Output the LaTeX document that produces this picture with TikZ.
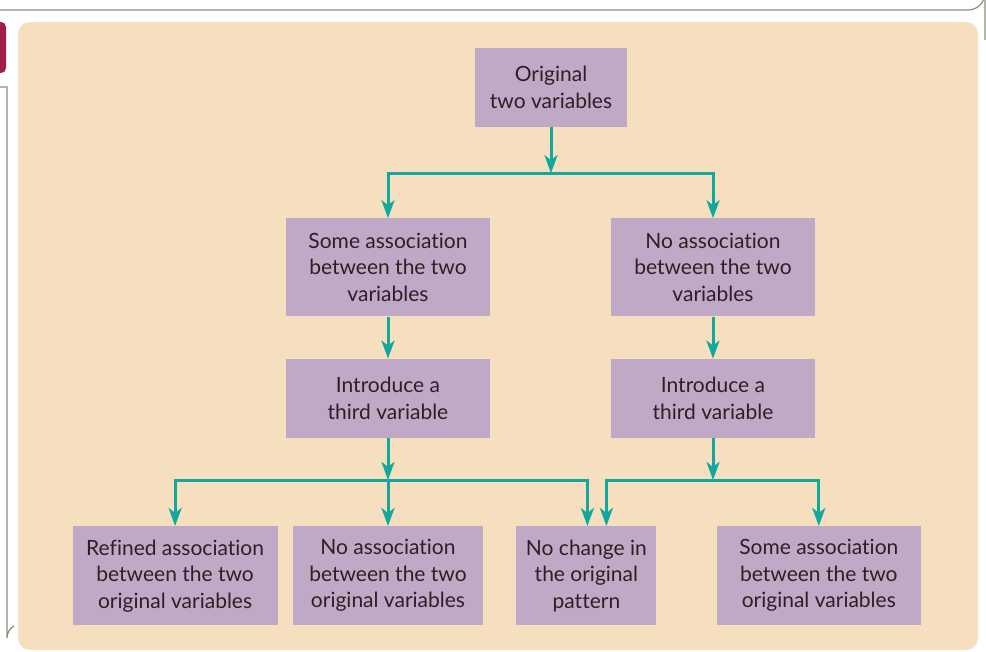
\documentclass[tikz,border=0pt]{standalone}
\usepackage{fontspec}
\setmainfont{Lato}[Ligatures=NoCommon]
\usetikzlibrary{arrows.meta,positioning}
\definecolor{panel}{HTML}{F5DFBF}
\definecolor{boxfill}{HTML}{C0A8C7}
\definecolor{linkcol}{HTML}{12A89D}
\definecolor{framecol}{HTML}{8C8C7A}
\definecolor{tabcol}{HTML}{A11E4B}
\definecolor{ink}{HTML}{2A2222}

\begin{document}
\begin{tikzpicture}[x=1pt,y=-1pt,>={Stealth[length=18pt,width=13pt,inset=5pt]}]
  \tikzstyle{box}=[fill=boxfill,text=ink,align=center,inner sep=0pt,font=\fontsize{21}{26.5}\selectfont]
  \tikzstyle{link}=[draw=linkcol,line width=3pt]
  \useasboundingbox (0,0) rectangle (986,652);
  % page frame and tab
  \draw[framecol,line width=1.2pt] (0,10) -- (968,10) arc[start angle=90,end angle=0,radius=17] -- (985,40);
  \draw[framecol,line width=1.2pt] (0,87) -- (7,87) -- (7,638) arc[start angle=180,end angle=240,radius=14];
  \fill[tabcol,rounded corners=5pt] (-10,22) rectangle (6,73);
  \fill[panel,rounded corners=12pt] (18,22) rectangle (978,650);
  % boxes
  \node[box,minimum width=152pt,minimum height=79pt] (orig) at (551,87.5) {Original\\two variables};
  \node[box,minimum width=204pt,minimum height=98pt,below=91pt of orig,xshift=-163pt] (someL) {Some association\\between the two\\variables};
  \node[box,minimum width=204pt,minimum height=98pt,below=91pt of orig,xshift=162pt] (noneR) {No association\\between the two\\variables};
  \node[box,minimum width=204pt,minimum height=79pt,below=42pt of someL] (introL) {Introduce a\\third variable};
  \node[box,minimum width=204pt,minimum height=79pt,below=42pt of noneR] (introR) {Introduce a\\third variable};
  \node[box,minimum width=190pt,minimum height=99pt,below=88pt of introL] (noneB) {No association\\between the two\\original variables};
  \node[box,minimum width=205pt,minimum height=99pt,left=15pt of noneB] (refined) {Refined association\\between the two\\original variables};
  \node[box,minimum width=140pt,minimum height=99pt,right=33pt of noneB] (nochange) {No change in\\the original\\pattern};
  \node[box,minimum width=204pt,minimum height=99pt,right=60pt of nochange] (someB) {Some association\\between the two\\original variables};
  % junctions
  \coordinate[below=46pt of orig.south] (j1);
  \coordinate[below=42pt of introL.south] (j2);
  \coordinate[below=42pt of introR.south] (j3);
  % connectors
  \draw[link,->] (orig) -- (j1);
  \draw[link,->] (j1) -| (someL);
  \draw[link,->] (j1) -| (noneR);
  \draw[link,->] (someL) -- (introL);
  \draw[link,->] (noneR) -- (introR);
  \draw[link,->] (introL) -- (j2);
  \draw[link,->] (j2) -| (refined);
  \draw[link,->] (j2) -- (j2 |- noneB.north);
  \draw[link,->] (j2) -| ([xshift=1pt]nochange.north);
  \draw[link,->] (introR) -- (j3);
  \draw[link,->] (j3) -| ([xshift=20pt]nochange.north);
  \draw[link,->] (j3) -| (someB);
\end{tikzpicture}
\end{document}
